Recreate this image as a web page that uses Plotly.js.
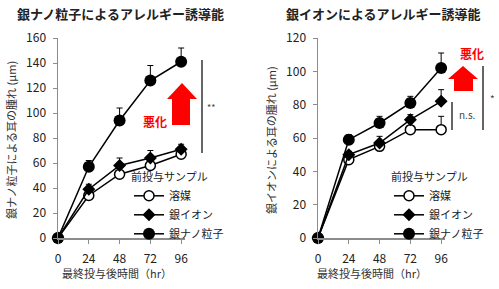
<!DOCTYPE html>
<html>
<head>
<meta charset="utf-8">
<script src="https://cdn.plot.ly/plotly-3.0.1.min.js"></script>
<style>
  body { margin: 0; background: #fff; }
  #chart { width: 499px; height: 289px; }
</style>
</head>
<body>
<div id="chart"></div>
<script>
var hours = [0, 24, 48, 72, 96];
var seriesNames = ["溶媒", "銀イオン", "銀ナノ粒子"];

// 銀ナノ粒子 panel (left)
var nanoSolvent = [0, 34, 51, 58, 67];
var nanoSolventErr = [0, 3, 3, 4, 3];
var nanoIon = [0, 39, 58, 64, 71];
var nanoIonErr = [0, 4, 6, 6, 4];
var nanoNano = [0, 57, 94, 126, 141];
var nanoNanoErr = [0, 5, 10, 12, 11];

// 銀イオン panel (right)
var ionSolvent = [0, 47, 55, 65, 65];
var ionSolventErr = [0, 2, 2, 2, 8];
var ionIon = [0, 50, 57, 71, 82];
var ionIonErr = [0, 2, 4, 3, 7];
var ionNano = [0, 59, 69, 81, 102];
var ionNanoErr = [0, 3, 4, 4, 9];

var W = 499, H = 289;
var FONT = "Noto Sans CJK JP, sans-serif";
function px(x) { return x / W; }
function py(y) { return 1 - y / H; }

var styles = [
    { symbol: "circle", size: 10, color: "#fff", line: { color: "#000", width: 1.5 } },
    { symbol: "diamond", size: 10, color: "#000", line: { color: "#000", width: 0 } },
    { symbol: "circle", size: 12, color: "#000", line: { color: "#000", width: 0 } }
];

function makeTrace(ys, errs, i, xa, ya, legendName) {
    return {
        x: hours, y: ys,
        xaxis: xa, yaxis: ya,
        name: seriesNames[i],
        legend: legendName,
        mode: "lines+markers",
        line: { color: "#000", width: 1.5 },
        marker: styles[i],
        cliponaxis: false,
        error_y: { type: "data", symmetric: false, array: errs, arrayminus: hours.map(function () { return 0; }),
                   color: "#000", thickness: 1, width: 3 }
    };
}

var data = [
    makeTrace(nanoSolvent, nanoSolventErr, 0, "x", "y", "legend"),
    makeTrace(nanoIon, nanoIonErr, 1, "x", "y", "legend"),
    makeTrace(nanoNano, nanoNanoErr, 2, "x", "y", "legend"),
    makeTrace(ionSolvent, ionSolventErr, 0, "x2", "y2", "legend2"),
    makeTrace(ionIon, ionIonErr, 1, "x2", "y2", "legend2"),
    makeTrace(ionNano, ionNanoErr, 2, "x2", "y2", "legend2")
];

var axisCommon = {
    showgrid: false, zeroline: false, showline: true, linecolor: "#8c8c8c", linewidth: 1.5,
    ticks: "outside", ticklen: 4, tickcolor: "#8c8c8c",
    tickfont: { family: FONT, size: 12, color: "#222" }, fixedrange: true
};
function ax(extra) { return Object.assign({}, axisCommon, extra); }

function legendCfg(x, y) {
    return {
        x: px(x), y: py(y), xanchor: "left", yanchor: "top",
        bgcolor: "rgba(0,0,0,0)",
        font: { family: FONT, size: 11, color: "#222" },
        title: { text: "前投与サンプル", font: { family: FONT, size: 11, color: "#222" } },
        tracegroupgap: 0
    };
}

function arrowPath(l, r, sl, sr, top, base, bottom) {
    var pts = [[(l + r) / 2, top], [r, base], [sr, base], [sr, bottom], [sl, bottom], [sl, base], [l, base]];
    return "M" + pts.map(function (p) { return px(p[0]) + "," + py(p[1]); }).join("L") + "Z";
}
function vline(x, y0, y1) {
    return { type: "line", xref: "paper", yref: "paper", x0: px(x), x1: px(x), y0: py(y0), y1: py(y1),
             line: { color: "#333", width: 1.5 } };
}
function note(text, x, y, opts) {
    return Object.assign({ text: text, xref: "paper", yref: "paper", x: px(x), y: py(y), showarrow: false,
                           xanchor: "center", yanchor: "middle",
                           font: { family: FONT, size: 11, color: "#333" } }, opts || {});
}

var layout = {
    width: W, height: H,
    margin: { l: 0, r: 0, t: 0, b: 0 },
    paper_bgcolor: "#fff", plot_bgcolor: "rgba(0,0,0,0)",
    showlegend: true,
    xaxis: ax({ domain: [px(58), px(185)], range: [0, 99], tickvals: hours, anchor: "y", ticklabelstandoff: 5 }),
    yaxis: ax({ domain: [py(238), py(38)], range: [0, 160], dtick: 20, anchor: "x", ticklabelstandoff: 4 }),
    xaxis2: ax({ domain: [px(318), px(445)], range: [0, 99], tickvals: hours, anchor: "y2", ticklabelstandoff: 5 }),
    yaxis2: ax({ domain: [py(238), py(38)], range: [0, 120], dtick: 20, anchor: "x2", ticklabelstandoff: 4 }),
    legend: legendCfg(129, 167),
    legend2: legendCfg(389, 167),
    shapes: [
        { type: "path", xref: "paper", yref: "paper", path: arrowPath(167, 197, 172, 190, 83, 99, 125),
          fillcolor: "#ff0000", line: { width: 0 } },
        { type: "path", xref: "paper", yref: "paper", path: arrowPath(448, 478, 454, 473, 66, 79, 91),
          fillcolor: "#ff0000", line: { width: 0 } },
        vline(202, 60, 153),
        vline(452, 102, 130),
        vline(483, 66, 130)
    ],
    annotations: [
        note("<b>銀ナノ粒子によるアレルギー誘導能</b>", 120, 13, { font: { family: FONT, size: 13, color: "#222" } }),
        note("<b>銀イオンによるアレルギー誘導能</b>", 383, 13, { font: { family: FONT, size: 13, color: "#222" } }),
        note("最終投与後時間（hr）", 117, 273, { font: { family: FONT, size: 11, color: "#333" } }),
        note("最終投与後時間（hr）", 372, 273, { font: { family: FONT, size: 11, color: "#333" } }),
        note("銀ナノ粒子による耳の腫れ (µm)", 11, 140, { textangle: -90 }),
        note("銀イオンによる耳の腫れ (µm)", 271, 140, { textangle: -90 }),
        note("<b>悪化</b>", 155, 121, { font: { family: FONT, size: 12, color: "#ff0000" } }),
        note("<b>悪化</b>", 472, 53, { font: { family: FONT, size: 12, color: "#ff0000" } }),
        note("**", 211, 107, { font: { family: FONT, size: 9, color: "#444" } }),
        note("n.s.", 467, 114, { font: { family: FONT, size: 10, color: "#444" } }),
        note("*", 492, 99, { font: { family: FONT, size: 10, color: "#444" } })
    ]
};

Plotly.newPlot("chart", data, layout, { staticPlot: true, displayModeBar: false });
</script>
</body>
</html>
